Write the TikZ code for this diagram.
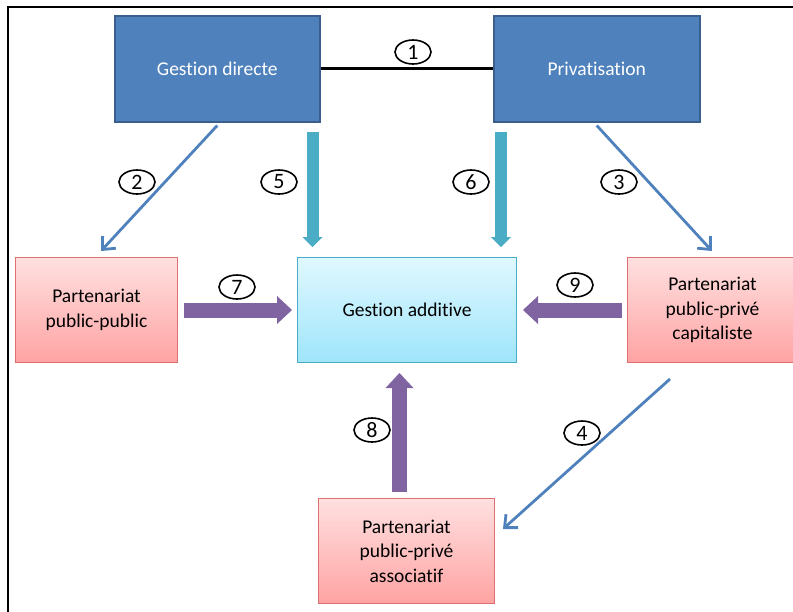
\documentclass[tikz,border=0pt]{standalone}
\usepackage{fontspec}
\setmainfont{Carlito}[RawFeature={-liga}]
\usetikzlibrary{arrows.meta,calc,positioning,shapes.geometric}
\definecolor{boxblue}{HTML}{4F81BD}
\definecolor{boxblueedge}{HTML}{3A5F8E}
\definecolor{pinktop}{HTML}{FFE0E0}
\definecolor{pinkbot}{HTML}{FFA3A3}
\definecolor{pinkedge}{HTML}{E07070}
\definecolor{cyantop}{HTML}{E0F8FF}
\definecolor{cyanbot}{HTML}{9FE5FB}
\definecolor{cyanedge}{HTML}{4BACC6}
\definecolor{arrcyan}{HTML}{4BACC6}
\definecolor{arrpurple}{HTML}{8064A2}
\tikzset{
  bluebox/.style={draw=boxblueedge,line width=1.5pt,fill=boxblue,text=white,
    minimum width=#1,minimum height=106pt,anchor=north west,inner sep=0pt,
    font=\fontsize{19.5}{24}\selectfont},
  pinkbox/.style={draw=pinkedge,line width=1pt,top color=pinktop,bottom color=pinkbot,
    minimum width=#1,minimum height=105pt,anchor=north west,inner sep=0pt,align=center,
    font=\fontsize{19.5}{24.5}\selectfont},
  cyanbox/.style={draw=cyanedge,line width=1pt,top color=cyantop,bottom color=cyanbot,
    minimum width=#1,minimum height=105pt,anchor=north west,inner sep=0pt,align=center,
    font=\fontsize{19.5}{24.5}\selectfont},
  numlab/.style={draw=black,line width=1.6pt,ellipse,minimum width=36pt,minimum height=24pt,
    inner sep=0pt,font=\fontsize{22}{22}\selectfont},
  thinarr/.style={draw=boxblue,line width=2.8pt,-{Straight Barb[length=10pt,width=18pt,line width=2.8pt]}},
  cyanarr/.style={draw=arrcyan,line width=12pt,line cap=butt,
    -{Triangle[length=10pt,width=20pt,line width=0pt 0 0]}},
  purplearr/.style={draw=arrpurple,line width=15pt,line cap=butt,
    -{Triangle[length=15pt,width=28pt,line width=0pt 0 0]}},
}
\begin{document}
\begin{tikzpicture}[x=1pt,y=-1pt]
\useasboundingbox (0,0) rectangle (793,611);
\begin{scope}
\clip (0,0) rectangle (793,611);
% frame
\draw[line width=2.5pt] (8,630) -- (8,7) -- (800,7);
% boxes
\node[bluebox=205pt] (gd) at (114,15) {Gestion directe};
\node[bluebox=206pt] (pr) at (493,15) {Privatisation};
\node[pinkbox=162pt] (ppp) at (15,257) {Partenariat\\public-public};
\node[cyanbox=219pt] (ga) at (297,257) {Gestion additive};
\node[pinkbox=170pt] (ppc) at (627,257) {Partenariat\\public-privé\\capitaliste};
\node[pinkbox=176pt] (ppa) at (318,498) {Partenariat\\public-privé\\associatif};
% connectors
\draw[line width=3pt] (gd.east) -- (pr.west);
\coordinate (a2s) at ($(gd.south)+(0,3)$);
\coordinate (a2e) at ($(ppp.north west)+(86,-6)$);
\draw[thinarr] (a2s) -- (a2e);
\coordinate (a3s) at ($(pr.south)+(0,3)$);
\coordinate (a3e) at ($(ppc.north west)+(85,-6)$);
\draw[thinarr] (a3s) -- (a3e);
\coordinate (a4s) at ($(ppc.south west)+(43,16)$);
\coordinate (a4e) at ($(ppa.north east)+(8,31)$);
\draw[thinarr] (a4s) -- (a4e);
\draw[cyanarr] ($(gd.south east)+(-8,9)$) -- ($(gd.south east |- ga.north)+(-8,-10)$);
\draw[cyanarr] ($(pr.south west)+(8,9)$) -- ($(pr.south west |- ga.north)+(8,-10)$);
\draw[purplearr] ($(ppp.east)+(6,0)$) -- ($(ga.west)+(-5,0)$);
\draw[purplearr] ($(ppc.west)+(-5,0)$) -- ($(ga.east)+(6,0)$);
\draw[purplearr] ($(ppa.north)+(-7,-6)$) -- ($(ppa.north |- ga.south)+(-7,10)$);
% labels
\node[numlab] (l1) at (413,52) {1};
\node[numlab] (l2) at (137,182) {2};
\node[numlab] (l5) at (279,182) {5};
\node[numlab] (l6) at (471,182) {6};
\node[numlab] (l3) at (619,182) {3};
\node[numlab] (l7) at (237,287) {7};
\node[numlab] (l9) at (575,285) {9};
\node[numlab] (l8) at (372,430) {8};
\node[numlab] (l4) at (582,433) {4};
\end{scope}
\end{tikzpicture}
\end{document}
